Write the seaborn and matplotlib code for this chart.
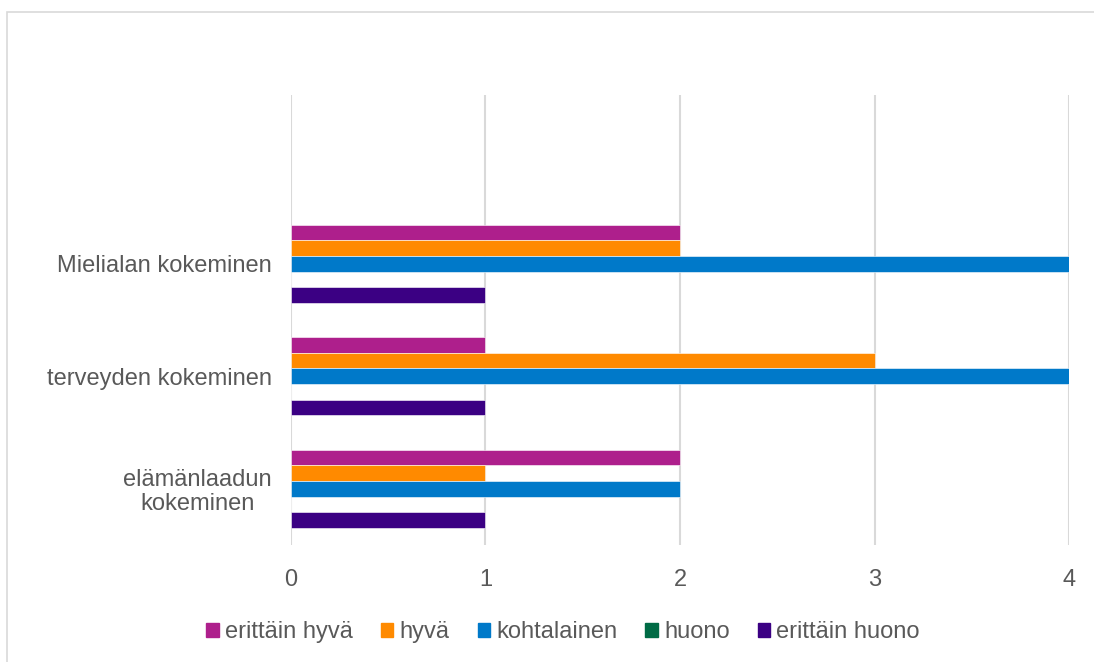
import matplotlib
matplotlib.use("Agg")
import matplotlib.pyplot as plt
import seaborn as sns
import pandas as pd
from matplotlib.patches import Rectangle

categories = ["Mielialan kokeminen", "terveyden kokeminen", "elämänlaadun\nkokeminen"]
series = ["erittäin hyvä", "hyvä", "kohtalainen", "huono", "erittäin huono"]
erittain_hyva = [2, 1, 2]
hyva = [2, 3, 1]
kohtalainen = [4, 4, 2]
huono = [0, 0, 0]
erittain_huono = [1, 1, 1]
colors = ["#AE1F8C", "#FF8A00", "#0079C9", "#006B45", "#3B0083"]
xticks = [0, 1, 2, 3, 4]

values = [erittain_hyva, hyva, kohtalainen, huono, erittain_huono]
rows = []
for s, vals in zip(series, values):
    for c, v in zip(categories, vals):
        rows.append({"kategoria": c, "sarja": s, "arvo": v})
df = pd.DataFrame(rows)

sns.set_style("white")
plt.rcParams["font.family"] = ["Liberation Sans", "DejaVu Sans"]

FS = 17
fig = plt.figure(figsize=(10.94, 6.62), dpi=100)
ax = fig.add_axes([291 / 1094, 1 - 545 / 662, (1069 - 291) / 1094, (545 - 95) / 662])

sns.barplot(data=df, y="kategoria", x="arvo", hue="sarja", order=categories,
            hue_order=series, palette=colors, saturation=1, orient="h", width=0.69,
            edgecolor="white", linewidth=0.4, ax=ax, legend=True)

ax.set_xlim(0, 4)
ax.set_ylim(2.5, -1.5)
ax.set_xticks(xticks)
ax.set_xlabel("")
ax.set_ylabel("")
ax.grid(axis="x", color="#D9D9D9", linewidth=1.5)
ax.grid(axis="y", visible=False)
ax.set_axisbelow(True)
for sp in ax.spines.values():
    sp.set_visible(False)
ax.tick_params(axis="x", length=0, pad=17, labelsize=FS, labelcolor="#595959")
ax.tick_params(axis="y", length=0, pad=14, labelsize=FS, labelcolor="#595959")
for lab in ax.get_yticklabels():
    lab.set_multialignment("center")
    lab.set_linespacing(1.1)

ax.get_legend().remove()
handles = [Rectangle((0, 0), 1, 1, color=c) for c in colors]
fig.legend(handles, series, loc="center", bbox_to_anchor=(563 / 1094, 1 - 632 / 662),
           ncol=5, frameon=False, fontsize=FS, labelcolor="#595959",
           handlelength=0.52, handleheight=0.52, handletextpad=0.26,
           columnspacing=1.2, borderpad=0)

fig.patches.append(Rectangle((7 / 1094, -0.1), 1.2, 1 - 12 / 662 + 0.1,
                             transform=fig.transFigure, fill=False,
                             edgecolor="#D9D9D9", linewidth=1.2))

fig.savefig("out.png", dpi=100)
